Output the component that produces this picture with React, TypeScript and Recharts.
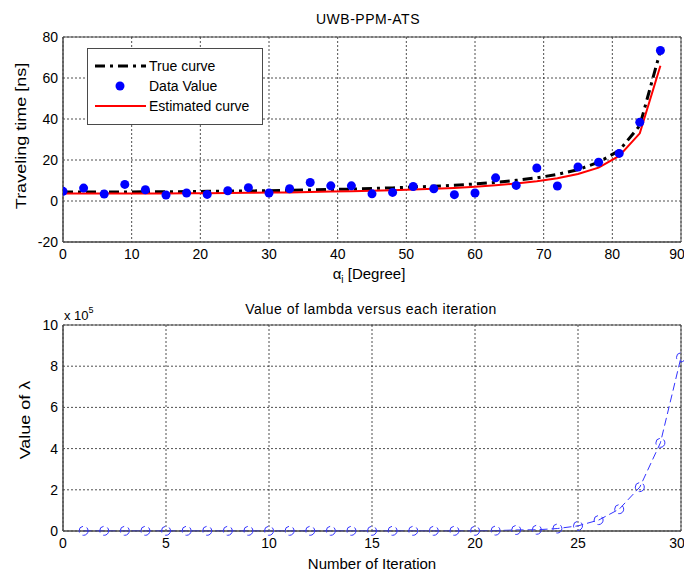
import React from "react";
import {
  ComposedChart,
  LineChart,
  Line,
  XAxis,
  YAxis,
  CartesianGrid,
  ReferenceArea,
} from "recharts";

// Incidence angle (degrees) for each sample
const angles = [0, 3, 6, 9, 12, 15, 18, 21, 24, 27, 30, 33, 36, 39, 42, 45, 48, 51, 54, 57, 60, 63, 66, 69, 72, 75, 78, 81, 84, 87];
// Measured traveling time [ns]
const measured = [4.7, 6.3, 3.4, 8.1, 5.5, 2.9, 3.9, 3.2, 5.0, 6.5, 3.9, 6.0, 9.0, 7.4, 7.4, 3.5, 4.2, 7.1, 6.0, 3.1, 3.9, 11.3, 7.6, 16.1, 7.3, 16.6, 18.9, 23.2, 38.4, 73.4];
// True traveling time [ns]
const trueCurve = [4.4, 4.4, 4.4, 4.4, 4.5, 4.5, 4.6, 4.7, 4.8, 4.9, 5.0, 5.2, 5.4, 5.6, 5.8, 6.1, 6.4, 6.8, 7.2, 7.7, 8.3, 9.1, 10.1, 11.3, 13.0, 15.3, 18.9, 24.6, 36.8, 73.2];
// Estimated traveling time [ns]
const estimated = [3.6, 3.6, 3.6, 3.6, 3.7, 3.7, 3.8, 3.8, 3.9, 4.0, 4.1, 4.2, 4.4, 4.6, 4.8, 5.0, 5.3, 5.6, 6.0, 6.4, 7.0, 7.7, 8.5, 9.6, 11.1, 13.2, 16.3, 22.0, 33.0, 66.0];

// Levenberg-Marquardt damping factor per iteration (units of 1e5)
const iterations = [1, 2, 3, 4, 5, 6, 7, 8, 9, 10, 11, 12, 13, 14, 15, 16, 17, 18, 19, 20, 21, 22, 23, 24, 25, 26, 27, 28, 29, 30];
const lambdaE5 = [0.01, 0.01, 0.01, 0.01, 0.01, 0.01, 0.01, 0.01, 0.01, 0.01, 0.01, 0.01, 0.01, 0.01, 0.01, 0.01, 0.01, 0.01, 0.01, 0.01, 0.02, 0.05, 0.06, 0.12, 0.25, 0.53, 1.06, 2.13, 4.28, 8.43];

const xTicksTop = [0, 10, 20, 30, 40, 50, 60, 70, 80, 90];
const yTicksTop = [-20, 0, 20, 40, 60, 80];
const xTicksBottom = [0, 5, 10, 15, 20, 25, 30];
const yTicksBottom = [0, 2, 4, 6, 8, 10];

const topData = angles.map((a, i) => ({ a, data: measured[i], truth: trueCurve[i], est: estimated[i] }));
const bottomData = iterations.map((k, i) => ({ k, lambda: lambdaE5[i] }));

const FONT = "'Liberation Sans', Arial, sans-serif";
const tickStyle = { fill: "#000", fontSize: 14, fontFamily: FONT };
const frame = "#4a4a4a";

function TopLegend() {
  const row = { display: "flex", alignItems: "center", height: 20 } as const;
  return (
    <div
      style={{
        position: "absolute",
        left: 87,
        top: 48,
        width: 176,
        height: 77,
        border: `1px solid ${frame}`,
        background: "#fff",
        fontFamily: FONT,
        fontSize: 14,
        color: "#000",
        boxSizing: "border-box",
        paddingTop: 7,
      }}
    >
      <div style={row}>
        <svg width={57} height={10} style={{ marginLeft: 4 }}>
          <line x1={3} y1={5} x2={54} y2={5} stroke="#000" strokeWidth={3} strokeDasharray="10 5 3 5" />
        </svg>
        <span>True curve</span>
      </div>
      <div style={row}>
        <svg width={57} height={12} style={{ marginLeft: 4 }}>
          <circle cx={28} cy={6} r={4.5} fill="#0000ff" />
        </svg>
        <span>Data Value</span>
      </div>
      <div style={row}>
        <svg width={57} height={10} style={{ marginLeft: 4 }}>
          <line x1={3} y1={5} x2={54} y2={5} stroke="#ff0000" strokeWidth={2} />
        </svg>
        <span>Estimated curve</span>
      </div>
    </div>
  );
}

const textBase: React.CSSProperties = {
  position: "absolute",
  fontFamily: FONT,
  color: "#000",
  whiteSpace: "nowrap",
  lineHeight: 1,
};

export default function App() {
  return (
    <div style={{ position: "absolute", left: 0, top: 0, width: 684, height: 576, background: "#fff" }}>
      {/* Upper panel: traveling time versus incidence angle */}
      <div style={{ position: "absolute", left: 0, top: 0 }}>
        <ComposedChart width={684} height={290} data={topData} margin={{ top: 37, right: 3, left: 23, bottom: 18 }}>
          <CartesianGrid stroke="#222" strokeDasharray="2 2" strokeWidth={0.8} horizontalValues={yTicksTop} verticalValues={xTicksTop} />
          <XAxis
            dataKey="a"
            type="number"
            domain={[0, 90]}
            ticks={xTicksTop}
            allowDataOverflow
            tick={tickStyle}
            tickLine={false}
            tickSize={0}
            tickMargin={7}
            axisLine={{ stroke: frame }}
            height={30}
          />
          <YAxis
            type="number"
            domain={[-20, 80]}
            ticks={yTicksTop}
            tick={tickStyle}
            tickLine={false}
            tickSize={0}
            tickMargin={5}
            axisLine={{ stroke: frame }}
            width={40}
          />
          <ReferenceArea x1={0} x2={90} y1={-20} y2={80} fill="none" stroke={frame} strokeWidth={1} ifOverflow="visible" />
          <Line dataKey="truth" stroke="#000" strokeWidth={3} strokeDasharray="10 5 3 5" dot={false} isAnimationActive={false} />
          <Line dataKey="est" stroke="#ff0000" strokeWidth={2} dot={false} isAnimationActive={false} />
          <Line
            dataKey="data"
            stroke="none"
            strokeWidth={0}
            dot={{ r: 4.5, fill: "#0000ff", stroke: "#0000ff", strokeWidth: 0 }}
            isAnimationActive={false}
          />
        </ComposedChart>
        <TopLegend />
        <div style={{ ...textBase, left: 368, top: 12, fontSize: 14, letterSpacing: 0.5, transform: "translateX(-50%)" }}>
          UWB-PPM-ATS
        </div>
        <div style={{ ...textBase, left: 369, top: 266, fontSize: 15, transform: "translateX(-50%)" }}>
          α<sub style={{ fontSize: 10 }}>i</sub> [Degree]
        </div>
        <div
          style={{
            ...textBase,
            left: 20,
            top: 136,
            fontSize: 15,
            transform: "translate(-50%, -50%) rotate(-90deg) scale(1.2, 1)",
          }}
        >
          Traveling time [ns]
        </div>
      </div>

      {/* Lower panel: damping factor per iteration */}
      <div style={{ position: "absolute", left: 0, top: 290 }}>
        <LineChart width={684} height={286} data={bottomData} margin={{ top: 35, right: 3, left: 23, bottom: 15 }}>
          <CartesianGrid stroke="#222" strokeDasharray="2 2" strokeWidth={0.8} horizontalValues={yTicksBottom} verticalValues={xTicksBottom} />
          <XAxis
            dataKey="k"
            type="number"
            domain={[0, 30]}
            ticks={xTicksBottom}
            tick={tickStyle}
            tickLine={false}
            tickSize={0}
            tickMargin={7}
            axisLine={{ stroke: frame }}
            height={30}
          />
          <YAxis
            type="number"
            domain={[0, 10]}
            ticks={yTicksBottom}
            tick={tickStyle}
            tickLine={false}
            tickSize={0}
            tickMargin={5}
            axisLine={{ stroke: frame }}
            width={40}
          />
          <ReferenceArea x1={0} x2={30} y1={0} y2={10} fill="none" stroke={frame} strokeWidth={1} ifOverflow="visible" />
          <Line
            dataKey="lambda"
            stroke="#3333ff"
            strokeWidth={1}
            strokeDasharray="8 4"
            dot={{ r: 4.5, fill: "none", stroke: "#3333ff", strokeWidth: 1 }}
            isAnimationActive={false}
          />
        </LineChart>
        <div style={{ ...textBase, left: 371, top: 12, fontSize: 14, letterSpacing: 0.5, transform: "translateX(-50%)" }}>
          Value of lambda versus each iteration
        </div>
        <div style={{ ...textBase, left: 64, top: 18, fontSize: 13 }}>
          x 10<sup style={{ fontSize: 9, position: "relative", top: -2 }}>5</sup>
        </div>
        <div style={{ ...textBase, left: 372, top: 266, fontSize: 15, transform: "translateX(-50%)" }}>
          Number of Iteration
        </div>
        <div
          style={{
            ...textBase,
            left: 24,
            top: 130,
            fontSize: 15,
            transform: "translate(-50%, -50%) rotate(-90deg) scale(1.2, 1)",
          }}
        >
          Value of λ
        </div>
      </div>
    </div>
  );
}
